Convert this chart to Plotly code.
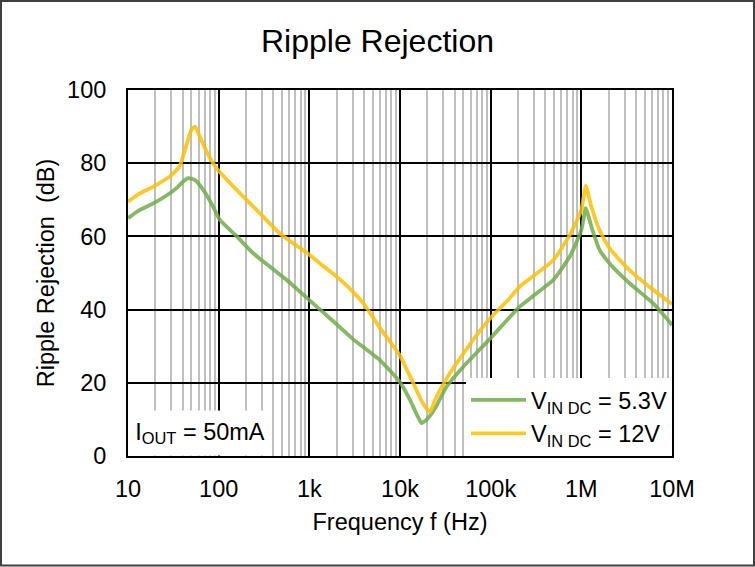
import plotly.graph_objects as go

# ---- data ----
freq_53v = [10, 13, 19, 29, 35, 40.7, 46, 55, 67.7, 87, 103, 150, 240, 400, 563,
            1000, 2000, 3000, 6000, 9900, 12900, 15200, 17300, 19000, 21400, 25000,
            32700, 50000, 98000, 150000, 209000, 300000, 490000, 746000, 1000000,
            1120000, 1200000, 1290000, 1590000, 2050000, 3400000, 6200000, 8700000, 10000000]
rr_53v = [65.0, 67.0, 69.0, 71.8, 73.4, 75.0, 75.9, 75.4, 72.7, 68.1, 64.5, 60.6, 55.4, 51.0, 48.1,
          42.6, 36.0, 32.0, 26.2, 20.3, 15.3, 11.5, 9.0, 9.6, 11.0, 13.5,
          19.0, 24.4, 32.0, 37.0, 40.8, 43.9, 48.1, 54.5, 61.7,
          67.7, 65.5, 62.7, 56.3, 52.6, 47.2, 41.7, 37.6, 35.8]

freq_12v = [10, 13, 19, 29, 37, 42, 50, 55, 62, 77, 95, 158, 285, 474,
            1000, 1310, 2000, 3000, 4000, 5000, 6000, 8000, 9900, 14000, 17900, 21400,
            24300, 32700, 50000, 75000, 100000, 156000, 209000, 490000, 746000, 1000000,
            1120000, 1290000, 1590000, 2050000, 3400000, 6200000, 10000000]
rr_12v = [69.5, 71.5, 73.6, 76.4, 79.1, 83.2, 89.1, 90.0, 87.2, 82.2, 78.6, 72.7, 66.3, 60.8,
          55.0, 52.6, 49.0, 45.0, 41.5, 38.0, 35.0, 30.8, 27.6, 19.9, 14.4, 12.0,
          15.3, 21.2, 28.0, 34.0, 37.8, 42.6, 46.3, 53.5, 60.4, 67.2,
          73.8, 68.1, 61.7, 56.7, 50.8, 45.4, 41.5]

x_tickvals = [10, 100, 1e3, 1e4, 1e5, 1e6, 1e7]
x_ticktext = ["10", "100", "1k", "10k", "100k", "1M", "10M"]
y_tickvals = [0, 20, 40, 60, 80, 100]

series_names = ["V<sub>IN DC</sub> = 5.3V", "V<sub>IN DC</sub> = 12V"]
series_colors = ["#70AD47", "#FFC000"]

minor_vals = [m * 10 ** d for d in range(1, 7) for m in range(2, 10)]

FONT = "Liberation Sans, Arial, sans-serif"
FS = 23.5

fig = go.Figure()
fig.add_trace(go.Scatter(x=freq_53v, y=rr_53v, mode="lines", name=series_names[0],
                         line=dict(color=series_colors[0], width=3.8, shape="spline", smoothing=0.5),
                         opacity=0.85))
fig.add_trace(go.Scatter(x=freq_12v, y=rr_12v, mode="lines", name=series_names[1],
                         line=dict(color=series_colors[1], width=3.8, shape="spline", smoothing=0.5),
                         opacity=0.85))

W, H = 755, 567
ml, mr, mt, mb = 128, 83, 90, 111
pw, ph = W - ml - mr, H - mt - mb

fig.update_layout(
    width=W, height=H,
    margin=dict(l=ml, r=mr, t=mt, b=mb, pad=0),
    paper_bgcolor="white", plot_bgcolor="white",
    font=dict(family=FONT, color="black", size=FS),
    title=dict(text="Ripple Rejection", font=dict(size=32, family=FONT, color="black"),
               x=0.5, xref="container", xanchor="center",
               y=1 - 41 / H, yref="container", yanchor="middle"),
    showlegend=True,
    legend=dict(x=1, y=0, xanchor="right", yanchor="bottom", bgcolor="white",
                borderwidth=0, font=dict(size=FS, family=FONT, color="black"),
                itemwidth=55, tracegroupgap=0),
    xaxis=dict(type="log", range=[1, 7], tickvals=x_tickvals, ticktext=x_ticktext,
               showline=True, mirror=True, linecolor="black", linewidth=2,
               showgrid=True, gridcolor="black", gridwidth=2, zeroline=False,
               ticks="", ticklabelstandoff=11,
               minor=dict(tickvals=minor_vals, showgrid=True, gridcolor="#BFBFBF", gridwidth=1.5, ticks=""),
               title=dict(text="Frequency f (Hz)", font=dict(size=FS), standoff=12)),
    yaxis=dict(range=[0, 100], tickvals=y_tickvals,
               showline=True, mirror=True, linecolor="black", linewidth=2,
               showgrid=True, gridcolor="black", gridwidth=2, zeroline=False,
               ticks="", ticklabelstandoff=15,
               title=dict(text="Ripple Rejection  (dB)", font=dict(size=FS), standoff=6)),
)

fig.add_annotation(text="I<sub>OUT</sub> = 50mA", xref="paper", yref="paper", x=0, y=0,
                   xanchor="left", yanchor="bottom", showarrow=False, bgcolor="white",
                   width=138, height=40, borderpad=2, align="center",
                   font=dict(size=FS, family=FONT, color="black"))

# outer frame around the whole picture
fig.add_shape(type="rect", xref="paper", yref="paper",
              x0=(-ml + 1) / pw, x1=1 + (mr - 1) / pw,
              y0=(-mb + 1.5) / ph, y1=1 + (mt - 1) / ph,
              line=dict(color="#404040", width=2), layer="above")

fig.write_html("out.html", config={"displayModeBar": False},
               post_script="document.body.style.margin='0';document.body.style.padding='0';")
